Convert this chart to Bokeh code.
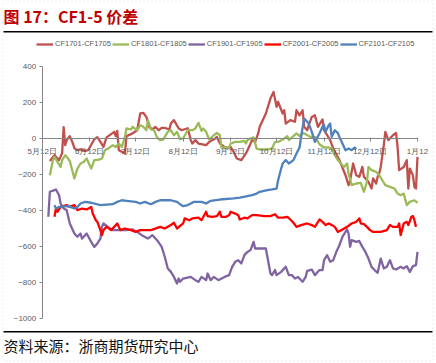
from bokeh.plotting import figure
from bokeh.models import (Range1d, FixedTicker, Legend, LegendItem, Label,
                          BoxAnnotation)
from bokeh.embed import file_html
from bokeh.resources import INLINE

# ---------------- data (x = days after 5月12日) ----------------
tick_days = [0, 31, 61, 92, 123, 153, 184, 214, 245]
tick_labels = ["5月12日", "6月12日", "7月12日", "8月12日", "9月12日",
               "10月12日", "11月12日", "12月12日", "1月12"]

series_names = ["CF1701-CF1705", "CF1801-CF1805", "CF1901-CF1905",
                "CF2001-CF2005", "CF2101-CF2105"]
series_colors = ["#C0504D", "#9BBB59", "#8064A2", "#FF0000", "#4F81BD"]

day_1701 = [5, 8, 11, 13, 14, 15, 16, 18, 20, 21, 23, 25, 28, 30, 34, 36, 38, 40, 42, 45,
            47, 48, 49, 50, 52, 54, 55, 58, 60, 62, 64, 66, 68, 70, 72, 74, 76, 78, 80, 83,
            84, 86, 89, 91, 95, 97, 98, 100, 102, 107, 109, 111, 113, 114, 116, 119, 121, 123, 125, 127,
            130, 133, 135, 137, 139, 141, 142, 146, 149, 151, 153, 154, 157, 158, 159, 162, 165, 166, 168, 170,
            171, 173, 174, 176, 178, 180, 183, 184, 188, 190, 194, 198, 200, 201, 203, 205, 207, 209, 210, 213,
            215, 216, 218, 219, 220, 221, 223, 224, 226, 227, 229, 231, 232, 233, 236, 238, 239, 240, 242, 243,
            244, 245]
cf1701 = [-125, -93, -120, -82, 63, -37, -9, 13, -26, -54, -65, -60, -69, -65, -4, 7, -19, -47, 6, 24,
          37, 13, 42, -65, -74, -84, 13, 24, 35, 46, 139, 142, 120, 61, 52, 64, 46, 59, 59, 50,
          83, 102, 57, 46, 57, -9, -28, -9, -28, -37, -19, -9, 0, 9, -28, -47, -56, -47, -74, -111,
          -120, -83, -47, -9, -19, 28, 65, 139, 222, 259, 176, 203, 139, 157, 83, 102, 93, 157, 129, 157,
          65, 46, 74, 120, 129, 65, 106, 46, -9, -56, -120, -204, -259, -232, -139, -204, -213, -158, -213, -241,
          -278, -222, -250, -213, -194, -158, -37, 37, -9, 0, 18, 31, -47, -176, -158, -120, -278, -167, -204, -269,
          -278, -102]

day_1801 = [5, 7, 8, 10, 12, 13, 15, 16, 18, 21, 23, 25, 27, 29, 32, 34, 37, 39, 41, 43,
            46, 48, 50, 52, 54, 55, 58, 59, 62, 64, 66, 68, 69, 71, 73, 75, 77, 79, 82, 84,
            86, 88, 90, 92, 95, 98, 100, 102, 104, 105, 107, 109, 112, 114, 116, 117, 120, 122, 123, 126,
            129, 132, 133, 134, 136, 138, 140, 142, 147, 150, 152, 154, 157, 160, 161, 164, 166, 168, 170, 172,
            175, 178, 181, 184, 187, 189, 191, 193, 197, 199, 200, 202, 205, 208, 210, 212, 213, 215, 218, 220,
            222, 224, 227, 230, 232, 234, 236, 238, 240, 243, 245]
cf1801 = [-204, -120, -102, -130, -158, -120, -93, -102, -125, -222, -167, -139, -130, -111, -167, -120, -117, -111, -65, -56,
          -37, -47, -28, -47, 9, 56, 50, 65, 46, 74, 65, 46, 102, 50, 46, 6, -9, -6, 37, 46,
          18, 37, -4, 0, 46, 46, 56, 87, 42, 56, 37, -6, 18, 31, 18, -50, -50, -50, -28, -19,
          -19, -13, -28, -9, 0, 6, -56, -61, -61, -56, -19, -19, -6, 13, -9, 13, 28, 13, 31, 24,
          9, 9, -32, -50, -50, -56, -93, -120, -158, -139, -194, -259, -250, -246, -296, -241, -158, -176, -185, -204,
          -232, -259, -269, -278, -306, -315, -306, -370, -352, -343, -358]

day_1901 = [4, 5, 8, 9, 11, 12, 14, 16, 18, 21, 23, 25, 26, 28, 29, 32, 34, 36, 38, 39,
            40, 43, 46, 51, 55, 59, 62, 65, 69, 72, 75, 78, 80, 82, 84, 86, 88, 89, 90, 92,
            97, 100, 102, 104, 107, 108, 110, 112, 115, 119, 122, 124, 126, 128, 130, 132, 134, 136, 138, 139,
            142, 146, 149, 150, 152, 153, 156, 159, 161, 163, 165, 167, 170, 172, 173, 176, 178, 181, 183, 184,
            186, 188, 190, 192, 194, 196, 199, 200, 201, 202, 205, 207, 209, 211, 213, 215, 217, 219, 221, 223,
            225, 227, 229, 231, 234, 236, 238, 240, 242, 244, 245]
cf1901 = [-435, -296, -287, -283, -315, -361, -389, -398, -472, -528, -546, -528, -556, -537, -528, -574, -602, -583, -556, -491,
          -472, -491, -509, -509, -509, -505, -519, -537, -556, -537, -565, -602, -657, -722, -741, -769, -806, -778, -796, -778,
          -769, -787, -796, -769, -787, -750, -787, -769, -787, -769, -759, -713, -685, -676, -694, -648, -630, -620, -574, -611,
          -611, -611, -750, -759, -731, -759, -741, -713, -759, -759, -778, -769, -796, -769, -735, -728, -759, -731, -731, -676,
          -648, -685, -676, -630, -593, -546, -505, -528, -602, -565, -574, -569, -602, -630, -667, -713, -731, -746, -667, -722,
          -713, -676, -722, -728, -713, -722, -709, -741, -709, -704, -630]

day_2001 = [8, 9, 10, 12, 16, 18, 21, 23, 26, 29, 32, 33, 35, 36, 38, 39, 40, 42, 45, 49,
            51, 54, 58, 61, 64, 71, 77, 80, 84, 86, 88, 92, 93, 96, 98, 102, 104, 107, 108, 111,
            114, 116, 117, 120, 122, 123, 126, 128, 129, 132, 134, 137, 140, 145, 149, 152, 154, 157, 160, 162,
            164, 166, 169, 173, 176, 178, 181, 183, 185, 187, 189, 191, 193, 196, 199, 202, 205, 207, 208, 210,
            212, 214, 216, 221, 225, 227, 229, 232, 233, 234, 236, 238, 239, 241, 242, 243, 244]
cf2001 = [-435, -389, -407, -380, -370, -380, -370, -398, -389, -394, -380, -417, -454, -463, -509, -537, -509, -491, -509, -472,
          -509, -500, -509, -519, -509, -509, -491, -500, -481, -468, -500, -472, -444, -454, -444, -440, -454, -407, -431, -435,
          -431, -407, -435, -435, -426, -407, -417, -426, -450, -440, -444, -426, -426, -431, -431, -421, -440, -440, -435, -450,
          -468, -491, -481, -472, -481, -491, -450, -463, -481, -472, -481, -491, -519, -505, -491, -472, -463, -444, -472, -476,
          -491, -509, -519, -519, -509, -481, -491, -491, -472, -537, -472, -463, -481, -435, -431, -454, -491]

day_2101 = [8, 9, 11, 17, 21, 23, 25, 28, 32, 38, 46, 49, 52, 55, 61, 64, 67, 71, 74, 77,
            84, 88, 90, 92, 95, 97, 99, 104, 107, 110, 116, 125, 129, 134, 137, 140, 142, 147, 150, 153,
            154, 156, 157, 159, 161, 164, 166, 168, 169, 171, 172, 174, 176, 178, 181, 183, 184, 185, 187, 188,
            189, 191, 193, 194, 196, 198, 200, 202, 204, 205]
cf2101 = [-370, -389, -380, -376, -389, -380, -361, -352, -357, -370, -365, -352, -343, -346, -352, -361, -352, -365, -352, -343,
          -343, -352, -365, -376, -370, -361, -352, -352, -361, -346, -339, -333, -328, -320, -315, -306, -296, -287, -283, -278,
          -232, -167, -139, -120, -139, -120, -83, -50, 9, 111, 102, 83, 37, -19, 28, 65, 74, 37, 74, 83,
          9, 46, 30, 9, -28, -65, -56, -65, -50, -60]

y_ticks = [400, 200, 0, -200, -400, -600, -800, -1000]
x_min, x_max = 0, 245
y_min, y_max = -1000, 400

# ---------------- geometry (canvas pixels) ----------------
W, H = 436, 363
PX_LEFT, PX_RIGHT = 41.7, 417.0     # pixel of x_min / x_max
PX_TOP, PX_BOTTOM = 66.0, 318.0     # pixel of y_max / y_min
kx = (PX_RIGHT - PX_LEFT) / (x_max - x_min)
ky = (PX_BOTTOM - PX_TOP) / (y_max - y_min)
xr = Range1d(x_min - PX_LEFT / kx, x_max + (W - PX_RIGHT) / kx)
yr = Range1d(y_min - (H - PX_BOTTOM) / ky, y_max + PX_TOP / ky)

p = figure(width=W, height=H, output_backend="svg", toolbar_location=None,
           x_range=xr, y_range=yr, min_border=0)
p.outline_line_color = None
p.grid.visible = False
p.background_fill_color = "white"
p.border_fill_color = "white"

AX = "#868686"
TXT = "#595959"

p.yaxis.fixed_location = x_min
p.yaxis.bounds = (y_min, y_max)
p.yaxis.ticker = FixedTicker(ticks=y_ticks)
p.yaxis.axis_line_color = AX
p.yaxis.major_tick_line_color = AX
p.yaxis.major_tick_out = 3
p.yaxis.major_tick_in = 0
p.yaxis.minor_tick_line_color = None
p.yaxis.major_label_standoff = 3
p.yaxis.major_label_text_font = "Liberation Sans"
p.yaxis.major_label_text_font_size = "8px"
p.yaxis.major_label_text_color = TXT

p.xaxis.fixed_location = 0
p.xaxis.bounds = (x_min, x_max)
p.xaxis.ticker = FixedTicker(ticks=tick_days)
p.xaxis.major_label_overrides = {d: t for d, t in zip(tick_days, tick_labels)}
p.xaxis.axis_line_color = AX
p.xaxis.major_tick_line_color = AX
p.xaxis.major_tick_out = 3
p.xaxis.major_tick_in = 1
p.xaxis.minor_tick_line_color = None
p.xaxis.major_label_standoff = 5
p.xaxis.major_label_text_font = "Liberation Sans"
p.xaxis.major_label_text_font_size = "8px"
p.xaxis.major_label_text_color = TXT

all_days = [day_1701, day_1801, day_1901, day_2001, day_2101]
all_vals = [cf1701, cf1801, cf1901, cf2001, cf2101]
items = []
for name, col, xs, ys in zip(series_names, series_colors, all_days, all_vals):
    r = p.line(xs, ys, line_color=col, line_width=2.3, line_join="round")
    items.append(LegendItem(label=name, renderers=[r]))


def sy(py):
    # canvas pixel from top -> screen units (from bottom)
    return H - py


legend = Legend(items=items, orientation="horizontal",
                location=(34, sy(50)),
                label_text_font="Liberation Sans", label_text_font_size="7.5px",
                label_text_color=TXT, glyph_width=17, glyph_height=8,
                label_height=8, label_standoff=2, spacing=1, padding=2, margin=0,
                border_line_alpha=0, background_fill_alpha=0)
p.add_layout(legend, "center")

# title, rules and source
p.add_layout(Label(x=3, y=sy(15), x_units="screen", y_units="screen",
                   text="图 17：CF1-5 价差", text_font="Noto Sans CJK SC",
                   text_font_style="bold", text_font_size="16px",
                   text_color="#C00000", text_baseline="middle"))
p.add_layout(BoxAnnotation(left=3, right=432, top=sy(30.5), bottom=sy(32),
                           left_units="screen", right_units="screen",
                           top_units="screen", bottom_units="screen",
                           fill_color="black", fill_alpha=1, line_alpha=0))
p.add_layout(BoxAnnotation(left=3, right=432, top=sy(330.5), bottom=sy(332),
                           left_units="screen", right_units="screen",
                           top_units="screen", bottom_units="screen",
                           fill_color="black", fill_alpha=1, line_alpha=0))
p.add_layout(Label(x=3, y=sy(345), x_units="screen", y_units="screen",
                   text="资料来源：浙商期货研究中心", text_font="Noto Sans CJK SC",
                   text_font_size="15px", text_color="#111111",
                   text_baseline="middle"))
p.add_layout(BoxAnnotation(left=2.5, right=432.5, top=sy(0.5), bottom=sy(360.5),
                           left_units="screen", right_units="screen",
                           top_units="screen", bottom_units="screen",
                           fill_alpha=0, line_color="#C0C0C0", line_width=1,
                           line_dash="2 2"))

open("out.html", "w").write(file_html(p, INLINE))
